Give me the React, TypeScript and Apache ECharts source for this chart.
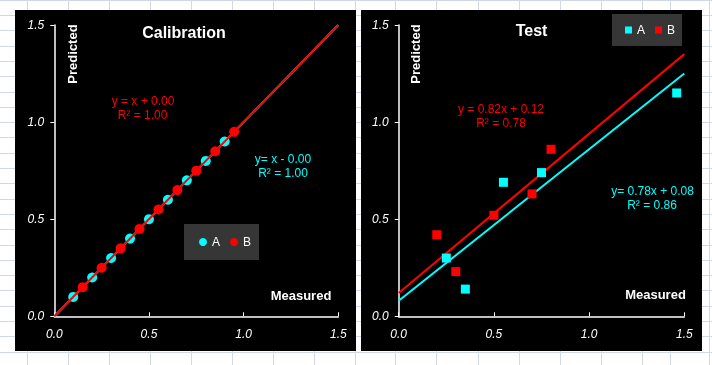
import React, { useEffect, useRef } from "react";
import * as echarts from "echarts";

// ---- Data ----
const calMeasuredA = [0.1, 0.2, 0.3, 0.4, 0.5, 0.6, 0.7, 0.8, 0.9];
const calPredictedA = [0.1, 0.2, 0.3, 0.4, 0.5, 0.6, 0.7, 0.8, 0.9];
const calMeasuredB = [0.15, 0.25, 0.35, 0.45, 0.55, 0.65, 0.75, 0.85, 0.95];
const calPredictedB = [0.15, 0.25, 0.35, 0.45, 0.55, 0.65, 0.75, 0.85, 0.95];

const testMeasuredA = [0.25, 0.35, 0.55, 0.75, 1.46];
const testPredictedA = [0.3, 0.14, 0.69, 0.74, 1.15];
const testMeasuredB = [0.2, 0.3, 0.5, 0.7, 0.8];
const testPredictedB = [0.42, 0.23, 0.52, 0.63, 0.86];

// trend lines: [slope, intercept]
const calTrendA = [1.0, 0.0];
const calTrendB = [1.0, 0.0];
const testTrendA = [0.78, 0.08];
const testTrendB = [0.82, 0.12];

const axisTicks = [0, 0.5, 1.0, 1.5];
const seriesNames = ["A", "B"];
const panelTitles = ["Calibration", "Test"];
const calLabelsA = ["y= x - 0.00", "R² = 1.00"];
const calLabelsB = ["y = x + 0.00", "R² = 1.00"];
const testLabelsA = ["y= 0.78x + 0.08", "R² = 0.86"];
const testLabelsB = ["y = 0.82x + 0.12", "R² = 0.78"];

const CYAN = "#00ffff";
const RED = "#ff0000";
const FONT = "'Liberation Sans', Arial, sans-serif";

const zip = (xs: number[], ys: number[]) => xs.map((x, i) => [x, ys[i]]);
const trend = (t: number[]) => {
  const x0 = axisTicks[0];
  const x1 = axisTicks[axisTicks.length - 1];
  return [
    [x0, t[0] * x0 + t[1]],
    [x1, t[0] * x1 + t[1]],
  ];
};

function txt(text: string, x: number, y: number, fill: string, font: string, rotation = 0, z = 100) {
  return {
    type: "text",
    x,
    y,
    rotation,
    z,
    style: {
      text,
      fill,
      font,
      textAlign: "center",
      textVerticalAlign: "middle",
      align: "center",
      verticalAlign: "middle",
    },
  };
}

export default function App() {
  const ref = useRef<HTMLDivElement>(null);

  useEffect(() => {
    if (!ref.current) return;
    const chart = echarts.init(ref.current, undefined, { renderer: "svg" });

    const bg: any[] = [];
    bg.push({ type: "rect", shape: { x: 0, y: 0, width: 712, height: 365 }, style: { fill: "#ffffff" }, z: -20 });
    const vx = [27, 68, 109, 150, 191, 232, 273, 314, 355, 395, 436, 478, 519, 560, 601, 642, 670, 709];
    vx.forEach((x) =>
      bg.push({ type: "line", shape: { x1: x + 0.5, y1: 0, x2: x + 0.5, y2: 365 }, style: { stroke: "#d0d7e5", lineWidth: 1 }, z: -19 })
    );
    for (let y = -0.3; y < 366; y += 15.3) {
      const yy = Math.round(y) + 0.5;
      bg.push({ type: "line", shape: { x1: 0, y1: yy, x2: 712, y2: yy }, style: { stroke: "#d0d7e5", lineWidth: 1 }, z: -19 });
    }
    bg.push({ type: "rect", shape: { x: 15, y: 10, width: 341, height: 341 }, style: { fill: "#000000" }, z: -10 });
    bg.push({ type: "rect", shape: { x: 361, y: 10, width: 341, height: 341 }, style: { fill: "#000000" }, z: -10 });

    const bold16 = `bold 16px ${FONT}`;
    const bold13 = `bold 13px ${FONT}`;
    const reg12 = `12px ${FONT}`;
    const texts = [
      txt(panelTitles[0], 184, 32, "#fff", bold16),
      txt(panelTitles[1], 531.5, 30, "#fff", bold16),
      txt("Predicted", 72, 54, "#fff", bold13, Math.PI / 2),
      txt("Predicted", 415.5, 54, "#fff", bold13, Math.PI / 2),
      txt("Measured", 301, 295, "#fff", bold13),
      txt("Measured", 655.5, 294.5, "#fff", bold13),
      txt(calLabelsB[0], 143, 101, RED, reg12),
      txt(calLabelsB[1], 142.5, 115, RED, reg12),
      txt(calLabelsA[0], 283, 159, CYAN, reg12),
      txt(calLabelsA[1], 283, 173, CYAN, reg12),
      txt(testLabelsB[0], 501, 109, RED, reg12),
      txt(testLabelsB[1], 501, 123, RED, reg12),
      txt(testLabelsA[0], 652.5, 191, CYAN, reg12),
      txt(testLabelsA[1], 652, 205, CYAN, reg12),
    ];

    const mkX = (gi: number) => ({
      type: "value",
      gridIndex: gi,
      min: 0,
      max: 1.5,
      interval: 0.5,
      splitLine: { show: false },
      axisLine: { show: true, onZero: false, lineStyle: { color: "#fff", width: 1.5 } },
      axisTick: { show: true, inside: true, length: 4, lineStyle: { color: "#fff", width: 1 } },
      axisLabel: {
        color: "#fff",
        fontStyle: "italic",
        fontSize: 12,
        fontFamily: FONT,
        margin: 12,
        formatter: (v: number) => v.toFixed(1),
      },
    });
    const mkY = (gi: number) => ({
      type: "value",
      gridIndex: gi,
      min: 0,
      max: 1.5,
      interval: 0.5,
      splitLine: { show: false },
      axisLine: { show: true, onZero: false, lineStyle: { color: "#fff", width: 1.5 } },
      axisTick: { show: true, inside: false, length: 4, lineStyle: { color: "#fff", width: 1 } },
      axisLabel: {
        color: "#fff",
        fontStyle: "italic",
        fontSize: 12,
        fontFamily: FONT,
        margin: 10,
        formatter: (v: number) => v.toFixed(1),
      },
    });

    const line = (name: string, gi: number, t: number[], color: string, z: number) => ({
      name,
      type: "line",
      xAxisIndex: gi,
      yAxisIndex: gi,
      data: trend(t),
      symbol: "none",
      lineStyle: { color, width: 2 },
      itemStyle: { color },
      z,
      silent: true,
    });
    const pts = (name: string, gi: number, data: number[][], color: string, symbol: string, size: number, z: number) => ({
      name,
      type: "scatter",
      xAxisIndex: gi,
      yAxisIndex: gi,
      data,
      symbol,
      symbolSize: size,
      itemStyle: { color, opacity: 1 },
      z,
    });

    const legendBase = {
      orient: "horizontal",
      backgroundColor: "#363636",
      textStyle: { color: "#fff", fontSize: 12, fontFamily: FONT },
      selectedMode: false,
    };

    chart.setOption({
      animation: false,
      graphic: [...bg, ...texts],
      grid: [
        { left: 54.3, top: 25, width: 284, height: 291.3 },
        { left: 398.7, top: 25, width: 285.6, height: 291.3 },
      ],
      xAxis: [mkX(0), mkX(1)],
      yAxis: [mkY(0), mkY(1)],
      legend: [
        {
          ...legendBase,
          left: 184,
          top: 224,
          padding: [12, 8, 12, 15],
          itemGap: 10,
          itemWidth: 8,
          itemHeight: 8,
          data: seriesNames.map((n) => ({ name: n, icon: "circle" })),
        },
        {
          ...legendBase,
          left: 612,
          top: 14,
          padding: [10, 7, 10, 13],
          itemGap: 10,
          itemWidth: 7,
          itemHeight: 7,
          data: seriesNames.map((n) => ({ name: n, icon: "rect" })),
        },
      ],
      series: [
        line("A trend cal", 0, calTrendA, CYAN, 3),
        pts("A", 0, zip(calMeasuredA, calPredictedA), CYAN, "circle", 10, 4),
        line("B trend cal", 0, calTrendB, RED, 5),
        pts("B", 0, zip(calMeasuredB, calPredictedB), RED, "circle", 10, 6),
        line("A trend test", 1, testTrendA, CYAN, 3),
        line("B trend test", 1, testTrendB, RED, 3),
        pts("A", 1, zip(testMeasuredA, testPredictedA), CYAN, "rect", 9, 6),
        pts("B", 1, zip(testMeasuredB, testPredictedB), RED, "rect", 9, 6),
      ],
    });

    return () => chart.dispose();
  }, []);

  return (
    <div
      ref={ref}
      style={{ position: "fixed", left: 0, top: 0, width: 712, height: 365 }}
    />
  );
}
